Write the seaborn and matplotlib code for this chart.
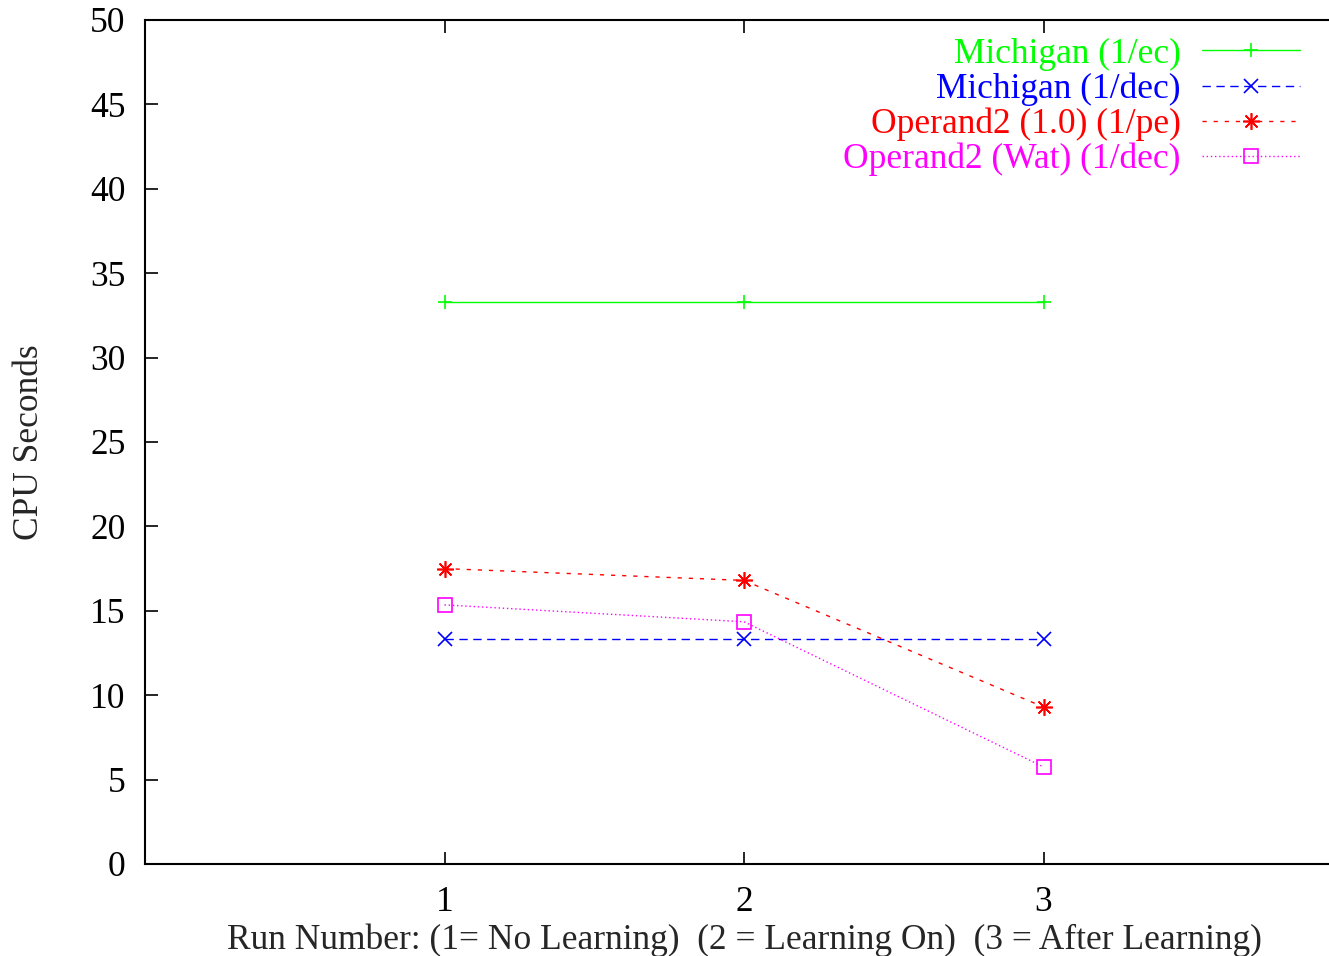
import matplotlib
matplotlib.use("Agg")
import matplotlib.pyplot as plt
import seaborn as sns
import pandas as pd

runs = [1, 2, 3]
michigan_ec = [33.3, 33.3, 33.3]
michigan_dec = [13.3, 13.3, 13.3]
operand2_pe = [17.5, 16.8, 9.3]
operand2_wat = [15.35, 14.35, 5.75]

series_names = ["Michigan (1/ec)", "Michigan (1/dec)", "Operand2 (1.0) (1/pe)", "Operand2 (Wat) (1/dec)"]
series_values = [michigan_ec, michigan_dec, operand2_pe, operand2_wat]
colors = ["#00ff00", "#0000ff", "#ff0000", "#ff00ff"]
markers = ["+", "x", (8, 2, 0), "s"]
msizes = [10, 10, 12, 10]
linestyles = ["-", (0, (6, 4)), (0, (3, 5)), (0, (1, 2))]

sns.set_style("white")
plt.rcParams["font.family"] = ["Liberation Serif", "DejaVu Serif"]
FS = 25.5
plt.rcParams["font.size"] = FS

W, H = 1329, 956
fig = plt.figure(figsize=(W / 100, H / 100), dpi=100)
ax = fig.add_axes([145 / W, 1 - 864 / H, (1343 - 145) / W, (864 - 20) / H])

for name, vals, c, m, ms, ls in zip(series_names, series_values, colors, markers, msizes, linestyles):
    df = pd.DataFrame({"run": runs, "cpu": vals})
    sns.lineplot(data=df, x="run", y="cpu", ax=ax, color=c, marker=m, linestyle=ls,
                 linewidth=1.0, markersize=ms, markeredgewidth=1.2,
                 markerfacecolor="none", markeredgecolor=c, label=name)

ax.set_xlim(0, 4)
ax.set_ylim(0, 50)
ax.set_xticks([1, 2, 3])
ax.set_yticks(range(0, 51, 5))
ax.set_xlabel("Run Number: (1= No Learning)  (2 = Learning On)  (3 = After Learning)", labelpad=3)
ax.set_ylabel("CPU Seconds", labelpad=32)
ax.tick_params(direction="in", length=9, width=1.2, top=True, right=True, bottom=True, left=True,
               labelsize=FS, colors="black")
ax.tick_params(axis="x", pad=16)
ax.tick_params(axis="y", pad=14)
for s in ax.spines.values():
    s.set_color("black")
    s.set_linewidth(1.5)

leg = ax.legend(loc="upper right", bbox_to_anchor=(0.977, 0.998), frameon=False, markerfirst=False,
                handlelength=2.75, labelspacing=0.05, handletextpad=0.6, fontsize=FS,
                labelcolor="linecolor", borderaxespad=0.05)

fig.savefig("out.png", dpi=100)
